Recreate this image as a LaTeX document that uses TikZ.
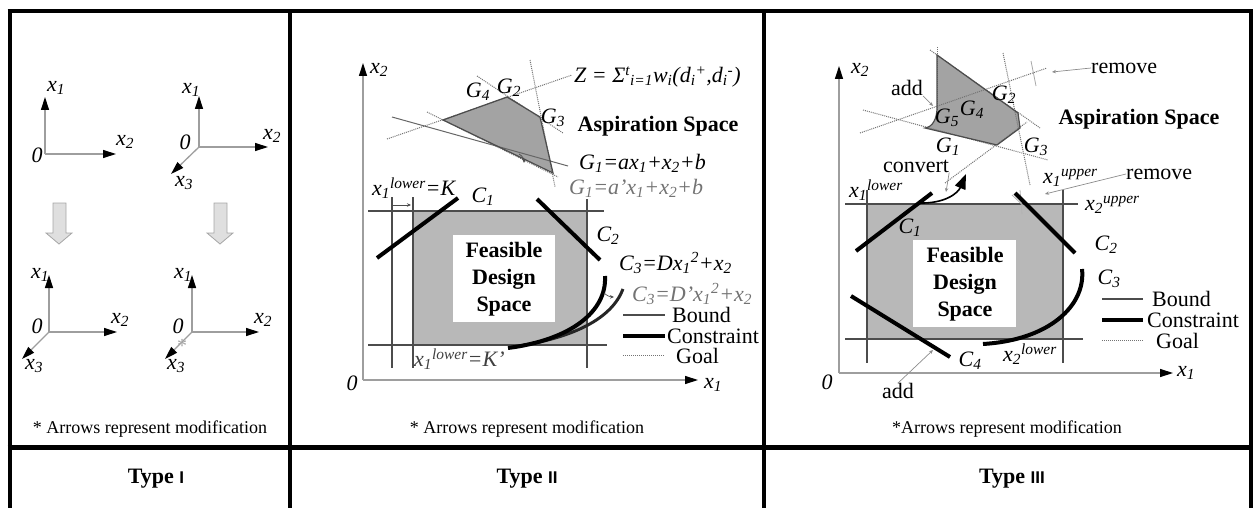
\documentclass[tikz,border=0pt]{standalone}
\usepackage{fontspec}
\setmainfont{Liberation Serif}
\setsansfont{Liberation Sans}
\usetikzlibrary{arrows.meta}
\definecolor{fillA}{gray}{0.72}
\definecolor{fillB}{gray}{0.64}
\definecolor{axcol}{gray}{0.62}
\definecolor{bndcol}{gray}{0.30}
\definecolor{goalcol}{gray}{0.45}
\definecolor{modcol}{gray}{0.45}
\begin{document}
\begin{tikzpicture}[x=1pt,y=-1pt,
  frame/.style={line width=4pt,black},
  axisline/.style={draw=axcol,line width=1.3pt,-{Triangle[black,length=13pt,width=8pt]}},
  bnd/.style={draw=bndcol,line width=1.3pt},
  cons/.style={draw=black,line width=4pt},
  goal/.style={draw=goalcol,line width=1pt,densely dotted},
  goalsolid/.style={draw=black!60,line width=1pt},
  polyedge/.style={draw=black!70,line width=1.2pt},
  modarrow/.style={draw=black!70,line width=0.7pt,-{Stealth[length=4pt,width=3.5pt]}},
  leader/.style={draw=black!45,line width=0.7pt,-{Stealth[length=4pt,width=3.5pt]}},
  itlbl/.style={font=\fontsize{22}{24}\selectfont\itshape,inner sep=0pt},
  rmlbl/.style={font=\fontsize{22}{24}\selectfont,inner sep=0pt},
  bflbl/.style={font=\fontsize{22}{27}\selectfont\bfseries,inner sep=0pt,align=center},
  captext/.style={font=\fontsize{18}{20}\selectfont,inner sep=0pt},
  typelbl/.style={font=\fontsize{22}{24}\selectfont\bfseries,inner sep=0pt},
  downarrow/.style={draw=gray!70,fill=gray!25,line width=0.8pt},
]
\useasboundingbox (0,0) rectangle (1255,508);

% ---------------- frame ----------------
\draw[frame] (7.5,11.5) -- (1253,11.5);
\draw[frame] (9.5,9.5) -- (9.5,508);
\draw[frame] (1251,9.5) -- (1251,508);
\draw[frame] (290,11.5) -- (290,508);
\draw[frame] (764,11.5) -- (764,508);
\draw[black,line width=5pt] (7.5,447) -- (1253,447);

% ---------------- panel I ----------------
\coordinate (a0) at (45,154); \coordinate (a1) at (45,97); \coordinate (a2) at (116,154);
\draw[axisline] (a0) -- (a1); \draw[axisline] (a0) -- (a2);
\node[itlbl] (la1) at (56,88) {x\textsubscript{1}};
\node[itlbl] (la2) at (125,142) {x\textsubscript{2}};
\node[itlbl] (la0) at (37,155) {0};

\coordinate (b0) at (199,147); \coordinate (b1) at (199,96); \coordinate (b2) at (268,147); \coordinate (b3) at (171,174);
\draw[axisline] (b0) -- (b1); \draw[axisline] (b0) -- (b2); \draw[axisline] (b0) -- (b3);
\node[itlbl] (lb1) at (191,90) {x\textsubscript{1}};
\node[itlbl] (lb2) at (272,136) {x\textsubscript{2}};
\node[itlbl] (lb0) at (185,142) {0};
\node[itlbl] (lb3) at (184,183) {x\textsubscript{3}};

\draw[downarrow] (53,203) -- (66,203) -- (66,233) -- (72,233) -- (59,244) -- (46,233) -- (53,233) -- cycle;
\draw[downarrow] (214,203) -- (227,203) -- (227,233) -- (233,233) -- (220,244) -- (207,233) -- (214,233) -- cycle;

\coordinate (c0) at (49,332); \coordinate (c1) at (49,275); \coordinate (c2) at (117,332); \coordinate (c3) at (22,359);
\draw[axisline] (c0) -- (c1); \draw[axisline] (c0) -- (c2); \draw[axisline] (c0) -- (c3);
\node[itlbl] (lc1) at (40,275) {x\textsubscript{1}};
\node[itlbl] (lc2) at (120,320) {x\textsubscript{2}};
\node[itlbl] (lc0) at (37,326) {0};
\node[itlbl] (lc3) at (34,366) {x\textsubscript{3}};

\coordinate (d0) at (192,332); \coordinate (d1) at (192,275); \coordinate (d2) at (259,332); \coordinate (d3) at (165,359);
\draw[axisline] (d0) -- (d1); \draw[axisline] (d0) -- (d2); \draw[axisline] (d0) -- (d3);
\node[itlbl] (ld1) at (183,275) {x\textsubscript{1}};
\node[itlbl] (ld2) at (263,320) {x\textsubscript{2}};
\node[itlbl] (ld0) at (178,326) {0};
\node[itlbl] (ld3) at (176,366) {x\textsubscript{3}};
\node[font=\fontsize{20}{20}\selectfont,text=gray!70,inner sep=0pt] (star) at (182,346) {*};

\node[captext] (cap1) at (150,429) {* Arrows represent modification};
\node[typelbl] (t1) at (156,479) {Type {\sffamily\fontsize{17}{18}\selectfont I}};

% ---------------- panel II ----------------
\fill[fillA] (413,211) rectangle (587,345);
\fill[white] (453,235) rectangle (555,322);
\draw[bnd] (368,211) -- (604,211);
\draw[bnd] (368,345) -- (607,345);
\draw[bnd] (392,197) -- (392,368);
\draw[bnd] (413,197) -- (413,368);
\draw[bnd] (587,199) -- (587,368);
\draw[modarrow] (393,205) -- (411,205);

% aspiration polygon
\fill[fillB] (443,120) -- (507,97) -- (540,117) -- (553,173) -- cycle;
\draw[goal] (387,139) -- (572,75);
\draw[goal] (477,76) -- (563,133);
\draw[goal] (530,60) -- (555,187);
\draw[goal] (427,112) -- (558,177);
\draw[goalsolid] (392,117) -- (568,166);
\draw[polyedge] (443,120) -- (507,97) -- (540,117) -- (553,173) -- cycle;
\draw[modarrow] (519,154) to[bend left=30] (524,163);

% constraints
\draw[cons] (377,258) -- (458,198);
\draw[cons] (537,199) -- (600,260);
\draw[draw=black!85,line width=3pt] (512,347) .. controls (575,338) and (612,318) .. (623,289);
\draw[cons] (508,348) .. controls (570,340) and (607,312) .. (605,276);
\draw[modarrow] (604,293) to[bend right=20] (614,297);

% axes
\coordinate (o2) at (363,380); \coordinate (y2) at (363,63); \coordinate (x2e) at (698,380);
\draw[axisline] (o2) -- (y2); \draw[axisline] (o2) -- (x2e);

\node[bflbl] (fds2) at (504,279) {Feasible\\Design\\Space};
\node[itlbl] (p2x2) at (379,70) {x\textsubscript{2}};
\node[itlbl] (p2x1) at (713,385) {x\textsubscript{1}};
\node[itlbl] (p2o) at (352,383) {0};
\node[itlbl] (p2c1) at (483,197) {C\textsubscript{1}};
\node[itlbl] (p2c2) at (608,236) {C\textsubscript{2}};
\node[itlbl,anchor=west] (p2c3) at (619,263) {C\textsubscript{3}=Dx\textsubscript{1}\textsuperscript{2}+x\textsubscript{2}};
\node[itlbl,anchor=west,text=modcol] (p2c3b) at (632,294) {C\textsubscript{3}=D'x\textsubscript{1}\textsuperscript{2}+x\textsubscript{2}};
\node[itlbl,anchor=west] (p2k) at (372,188) {x\textsubscript{1}\textsuperscript{lower}=K};
\node[itlbl,anchor=west,text=black!75] (p2kb) at (414,359) {x\textsubscript{1}\textsuperscript{lower}=K'};
\node[bflbl] (p2asp) at (658,126) {Aspiration Space};
\node[itlbl,anchor=west] (p2z) at (574,77) {Z = Σ\textsuperscript{t}\textsubscript{i=1}w\textsubscript{i}(d\textsubscript{i}\textsuperscript{+},d\textsubscript{i}\textsuperscript{-})};
\node[itlbl] (p2g4) at (478,92) {G\textsubscript{4}};
\node[itlbl] (p2g2) at (509,88) {G\textsubscript{2}};
\node[itlbl] (p2g3) at (553,118) {G\textsubscript{3}};
\node[itlbl,anchor=west] (p2g1) at (579,163) {G\textsubscript{1}=ax\textsubscript{1}+x\textsubscript{2}+b};
\node[itlbl,anchor=west,text=modcol] (p2g1b) at (569,188) {G\textsubscript{1}=a'x\textsubscript{1}+x\textsubscript{2}+b};

% legend II
\draw[bnd] (623,315) -- (665,315);
\draw[cons] (623,336) -- (665,336);
\draw[goal] (623,355) -- (665,355);
\node[rmlbl,anchor=west] (p2lb) at (672,315) {Bound};
\node[rmlbl,anchor=west] (p2lc) at (667,336) {Constraint};
\node[rmlbl,anchor=west] (p2lg) at (676,356) {Goal};

\node[captext] (cap2) at (527,429) {* Arrows represent modification};
\node[typelbl] (t2) at (527,479) {Type {\sffamily\fontsize{17}{18}\selectfont II}};

% ---------------- panel III ----------------
\fill[fillA] (867,204) rectangle (1063,339);
\fill[white] (913,240) rectangle (1016,327);
\draw[bnd] (845,204) -- (1078,204);
\draw[bnd] (845,339) -- (1083,339);
\draw[bnd] (867,190) -- (867,363);
\draw[bnd] (1063,190) -- (1063,363);
\draw[draw=black!30,line width=0.8pt] (1012,195) -- (1029,211);
\draw[draw=black!30,line width=0.8pt] (1020,190) -- (1022,214);

% aspiration polygon III
\fill[fillB] (937,55) -- (1018,113) -- (1020,128) -- (997,145) -- (925,128) .. controls (933,127) and (937,118) .. (937,108) -- cycle;
\draw[goal] (937,47) -- (937,110);
\draw[goal] (930,50) -- (1040,128);
\draw[goal] (860,133) -- (1047,68);
\draw[goal] (863,110) -- (1048,160);
\draw[goal] (1003,53) -- (1030,185);
\draw[goal] (945,183) -- (1027,122);
\draw[draw=black!35,line width=0.8pt] (1031,61) -- (1036,86);
\draw[polyedge] (937,55) -- (1018,113) -- (1020,128) -- (997,145) -- (925,128) .. controls (933,127) and (937,118) .. (937,108) -- cycle;

% constraints III
\draw[cons] (856,251) -- (932,193);
\draw[cons] (1015,193) -- (1075,253);
\draw[cons] (983,344) .. controls (1050,340) and (1086,305) .. (1082,269);
\draw[cons] (851,296) -- (950,357);

% convert arrow
\coordinate (cvs) at (918,203); \coordinate (cve) at (966,174);
\draw[draw=black,line width=1.6pt,-{Triangle[length=15pt,width=11pt]}] (cvs) .. controls (945,204) and (958,193) .. (cve);

% axes III
\coordinate (o3) at (839,373); \coordinate (y3) at (839,66); \coordinate (x3e) at (1173,373);
\draw[axisline] (o3) -- (y3); \draw[axisline] (o3) -- (x3e);

\node[bflbl] (fds3) at (965,284) {Feasible\\Design\\Space};
\node[itlbl] (p3x2) at (860,70) {x\textsubscript{2}};
\node[itlbl] (p3x1) at (1186,373) {x\textsubscript{1}};
\node[itlbl] (p3o) at (827,382) {0};
\node[itlbl] (p3c1) at (910,228) {C\textsubscript{1}};
\node[itlbl] (p3c2) at (1106,245) {C\textsubscript{2}};
\node[itlbl] (p3c3) at (1109,279) {C\textsubscript{3}};
\node[itlbl] (p3c4) at (970,361) {C\textsubscript{4}};
\node[itlbl,anchor=west] (p3x2l) at (1003,354) {x\textsubscript{2}\textsuperscript{lower}};
\node[itlbl,anchor=west] (p3x1l) at (849,190) {x\textsubscript{1}\textsuperscript{lower}};
\node[itlbl,anchor=west] (p3x1u) at (1043,178) {x\textsubscript{1}\textsuperscript{upper}};
\node[itlbl,anchor=west] (p3x2u) at (1085,205) {x\textsubscript{2}\textsuperscript{upper}};
\node[bflbl] (p3asp) at (1139,119) {Aspiration Space};
\node[itlbl] (p3g2) at (1004,95) {G\textsubscript{2}};
\node[itlbl] (p3g4) at (972,110) {G\textsubscript{4}};
\node[itlbl] (p3g5) at (947,118) {G\textsubscript{5}};
\node[itlbl] (p3g1) at (948,147) {G\textsubscript{1}};
\node[itlbl] (p3g3) at (1036,147) {G\textsubscript{3}};

\node[rmlbl,anchor=west] (rem1) at (1091,68) {remove};
\node[rmlbl,anchor=west] (rem2) at (1126,174) {remove};
\node[rmlbl] (add1) at (907,88) {add};
\node[rmlbl] (add2) at (898,391) {add};
\node[rmlbl] (conv) at (916,166) {convert};
\coordinate (rem1t) at (1052,72);
\coordinate (rem2t) at (1045,194);
\coordinate (add1t) at (933,106);
\coordinate (add2t) at (933,350);
\coordinate (convt) at (946,192);
\draw[leader] (rem1.west) -- (rem1t);
\draw[leader] (rem2.west) -- (rem2t);
\draw[leader] (add1.south east) -- (add1t);
\draw[leader] (add2.north) -- (add2t);
\draw[leader] (conv.south east) -- (convt);

% legend III
\draw[bnd] (1102,299) -- (1143,299);
\draw[cons] (1102,320) -- (1143,320);
\draw[goal] (1102,340) -- (1143,340);
\node[rmlbl,anchor=west] (p3lb) at (1152,299) {Bound};
\node[rmlbl,anchor=west] (p3lc) at (1147,320) {Constraint};
\node[rmlbl,anchor=west] (p3lg) at (1156,341) {Goal};

\node[captext] (cap3) at (1007,429) {*Arrows represent modification};
\node[typelbl] (t3) at (1012,479) {Type {\sffamily\fontsize{17}{18}\selectfont III}};
\end{tikzpicture}
\end{document}
